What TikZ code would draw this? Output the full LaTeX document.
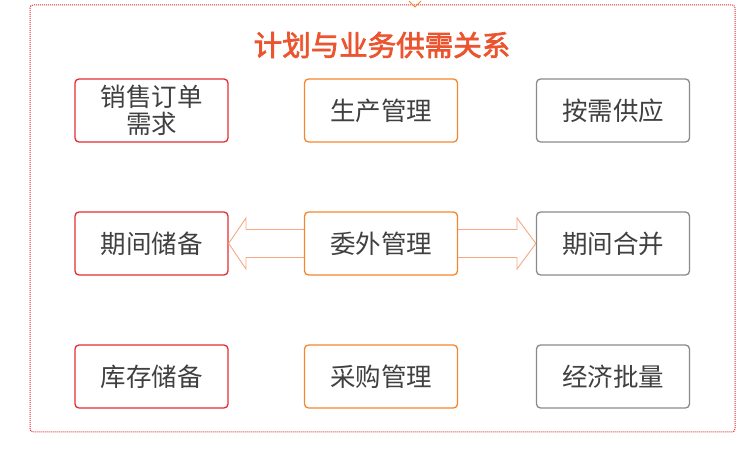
\documentclass[tikz,border=0pt]{standalone}
\usepackage{fontspec}
\newfontfamily\cjk{Noto Sans CJK SC}
\newfontfamily\cjkb[FakeBold=2.5]{Noto Sans CJK SC}
\definecolor{cred}{HTML}{E52B2F}
\definecolor{corg}{HTML}{F3862E}
\definecolor{cgry}{HTML}{8A8A8A}
\definecolor{ctxt}{HTML}{404040}
\definecolor{carr}{HTML}{F6A882}
\begin{document}
\begin{tikzpicture}[x=1pt,y=-1pt,
  box/.style={draw,line width=1.3pt,rounded corners=4pt,minimum width=153pt,minimum height=63pt,align=center,text=ctxt,font=\cjk\fontsize{25.5}{30}\selectfont,inner sep=2pt},
  rb/.style={box,draw=cred},ob/.style={box,draw=corg},gb/.style={box,draw=cgry},
  arr/.style={draw=carr,line width=0.9pt,line join=miter}]
\useasboundingbox (0,0) rectangle (748,454);
\draw[cred,densely dotted,line width=1pt,rounded corners=3pt] (30,5) rectangle (735,432);
\draw[corg,line width=0.8pt] (409,1) -- (415,7) -- (421,1);
\node[text=cred!55!corg,font=\cjkb\fontsize{28.5}{32}\selectfont] (t) at (382,45) {计划与业务供需关系};
\node[rb] (a1) at (151.5,110.5) {销售订单\\[-3pt]需求};
\node[ob] (b1) at (381,110.5) {生产管理};
\node[gb] (c1) at (613,110.5) {按需供应};
\node[rb] (a2) at (151.5,243.5) {期间储备};
\node[ob] (b2) at (381,243.5) {委外管理};
\node[gb] (c2) at (613,243.5) {期间合并};
\node[rb] (a3) at (151.5,376.5) {库存储备};
\node[ob] (b3) at (381,376.5) {采购管理};
\node[gb] (c3) at (613,376.5) {经济批量};
\draw[arr] (b2.west|-0,229.5) -- (246,229.5) -- (246,218) -- (a2.east) -- (246,269) -- (246,257.5) -- (b2.west|-0,257.5);
\draw[arr] (b2.east|-0,229.5) -- (517,229.5) -- (517,218) -- (c2.west) -- (517,269) -- (517,257.5) -- (b2.east|-0,257.5);
\end{tikzpicture}
\end{document}
